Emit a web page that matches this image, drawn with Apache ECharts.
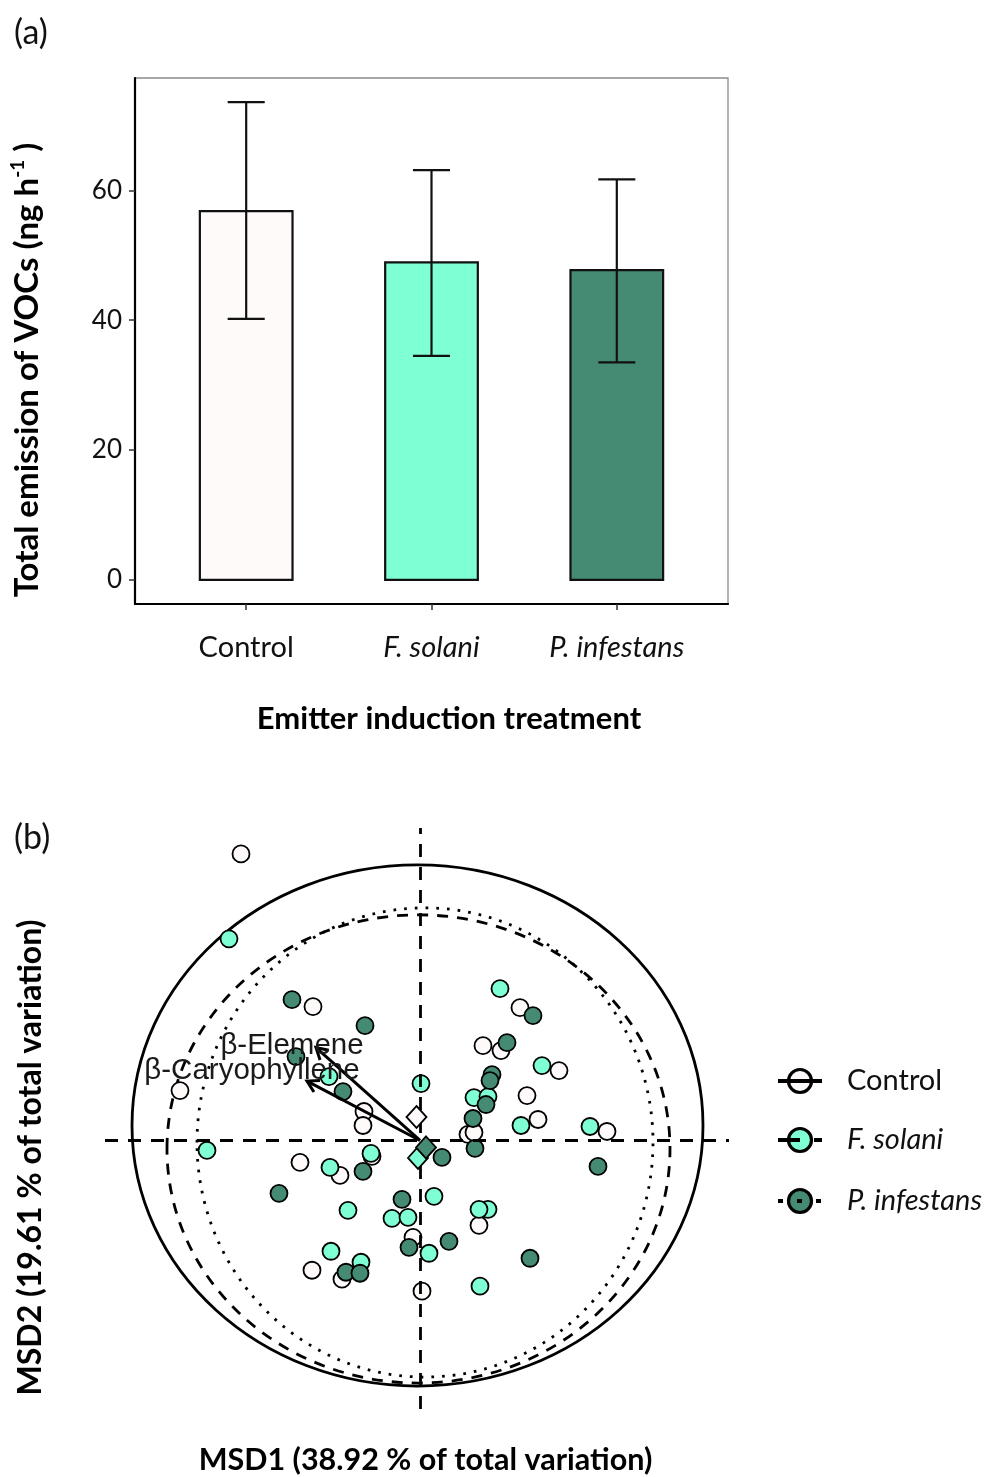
<!DOCTYPE html>
<html>
<head>
<meta charset="utf-8">
<script src="https://cdn.jsdelivr.net/npm/echarts@6/dist/echarts.min.js"></script>
<style>
html,body{margin:0;padding:0;background:#ffffff;}
#chart{width:988px;height:1477px;}
</style>
</head>
<body>
<div id="chart"></div>
<script>
// ---------------- Panel (a) data ----------------
const treatments = ['Control', 'F. solani', 'P. infestans'];
const treatmentItalic = [false, true, true];
const meanEmission = [56.8, 48.9, 47.7];
const upperEmission = [73.6, 63.1, 61.7];
const lowerEmission = [40.2, 34.5, 33.5];
const yTicksA = [0, 20, 40, 60];
const groupColors = ['#FFFAFA', '#7FFFD4', '#458B74'];

// ---------------- Panel (b) data (MDS scores) ----------------
const controlX = [-0.179, -0.107, -0.240, -0.056, -0.057, -0.120, -0.080, -0.048, -0.007, -0.108, -0.078, 0.002, 0.059, 0.100, 0.063, 0.081, 0.139, 0.107, 0.118, 0.187, 0.048, 0.054];
const controlY = [0.287, 0.134, 0.050, 0.029, 0.015, -0.022, -0.035, -0.016, -0.097, -0.130, -0.139, -0.151, -0.085, 0.133, 0.095, 0.090, 0.070, 0.045, 0.021, 0.009, 0.006, 0.008];
const fsolaniX = [-0.191, -0.091, 0.001, -0.213, -0.090, -0.049, -0.072, -0.028, -0.012, -0.089, -0.059, 0.009, 0.014, 0.068, 0.059, 0.060, 0.080, 0.122, 0.054, 0.068, 0.101, 0.170];
const fsolaniY = [0.202, 0.064, 0.057, -0.010, -0.027, -0.013, -0.070, -0.078, -0.077, -0.111, -0.122, -0.113, -0.056, -0.069, -0.069, -0.146, 0.152, 0.075, 0.043, 0.044, 0.015, 0.014];
const pinfX = [-0.128, -0.055, -0.124, -0.077, -0.057, -0.141, -0.018, -0.011, -0.074, -0.060, 0.022, 0.029, 0.110, 0.178, 0.113, 0.087, 0.072, 0.070, 0.066, 0.053, 0.055];
const pinfY = [0.141, 0.115, 0.084, 0.049, -0.031, -0.053, -0.059, -0.107, -0.132, -0.133, -0.017, -0.101, -0.118, -0.026, 0.125, 0.098, 0.066, 0.060, 0.036, 0.022, -0.008];
const centroidX = [-0.0035, -0.002, 0.006];
const centroidY = [0.0235, -0.0175, -0.007];
const ellipseCX = [-0.0025, -0.0015, 0.005];
const ellipseCY = [0.015, -0.0085, -0.002];
const ellipseRX = [0.2855, 0.2515, 0.228];
const ellipseRY = [0.261, 0.2345, 0.235];
const vectorNames = ['β-Elemene', 'β-Caryophyllene'];
const vectorX = [-0.104, -0.113];
const vectorY = [0.093, 0.0595];
const vectorLabelX = [-0.128, -0.168];
const vectorLabelY = [0.095, 0.070];

// ---------------- styles ----------------
const FONT = "Lato, 'Open Sans', sans-serif";
const ARIAL = "'Liberation Sans', Arial, sans-serif";
const ellipseDash = [null, [11, 9], [2.7, 8]];
const legendDash = [null, [22, 14], [5, 14]];

const chart = echarts.init(document.getElementById('chart'), null, {renderer: 'canvas'});

function zip(xs, ys) { return xs.map((x, i) => [x, ys[i]]); }

const legendRowsY = [1081, 1140, 1201];
const legendGraphics = [];
treatments.forEach((name, i) => {
  legendGraphics.push({
    type: 'circle', shape: {cx: 800, cy: legendRowsY[i], r: 11.5},
    style: {fill: groupColors[i], stroke: '#000', lineWidth: 3.2}, z: 10
  });
  legendGraphics.push({
    type: 'line', shape: {x1: 778, y1: legendRowsY[i], x2: 822, y2: legendRowsY[i]},
    style: {stroke: '#000', lineWidth: 4, lineDash: legendDash[i]}, z: 11
  });
  legendGraphics.push({
    type: 'text', x: 847, y: legendRowsY[i], z: 11,
    style: {text: name, fontSize: 29, fontFamily: FONT, fontStyle: treatmentItalic[i] ? 'italic' : 'normal',
      fill: '#111', verticalAlign: 'middle', align: 'left'}
  });
});

const labelRich = {
  n: {fontSize: 29, fontFamily: FONT, color: '#111'},
  it: {fontSize: 29, fontFamily: FONT, color: '#111', fontStyle: 'italic'}
};

const option = {
  backgroundColor: '#ffffff',
  animation: false,
  title: [
    {text: '(a)', left: 9, top: 11, textStyle: {fontSize: 34, fontWeight: 'normal', fontFamily: FONT, color: '#111'}},
    {text: '(b)', left: 9, top: 816, textStyle: {fontSize: 34, fontWeight: 'normal', fontFamily: FONT, color: '#111'}}
  ],
  grid: [
    {left: 133, top: 78, width: 595, height: 526, show: true, borderColor: '#8a8a8a', borderWidth: 1.3, backgroundColor: '#fff'},
    {left: 105, top: 828, width: 624, height: 582}
  ],
  xAxis: [
    {
      type: 'value', gridIndex: 0, min: 0.4, max: 3.6,
      splitLine: {show: false},
      axisLine: {show: true, onZero: false, lineStyle: {color: '#000', width: 2.2}},
      axisTick: {show: true, customValues: [1, 2, 3], length: 6, lineStyle: {color: '#333', width: 1.5}},
      axisLabel: {
        customValues: [1, 2, 3], margin: 29,
        formatter: function (v) {
          const i = Math.round(v) - 1;
          return (treatmentItalic[i] ? '{it|' : '{n|') + treatments[i] + '}';
        },
        rich: labelRich
      },
      name: 'Emitter induction treatment', nameLocation: 'middle', nameGap: 99,
      nameTextStyle: {fontSize: 31, fontWeight: 'bold', fontFamily: FONT, color: '#000', padding: [0, 0, 0, 35]}
    },
    {
      type: 'value', gridIndex: 1, min: -0.315, max: 0.309,
      axisLine: {show: false}, axisTick: {show: false}, axisLabel: {show: false}, splitLine: {show: false},
      name: 'MSD1 (38.92 % of total variation)', nameLocation: 'middle', nameGap: 36,
      nameTextStyle: {fontSize: 30.5, fontWeight: 'bold', fontFamily: FONT, color: '#000', padding: [0, 0, 0, 17]}
    }
  ],
  yAxis: [
    {
      type: 'value', gridIndex: 0, min: -3.7, max: 77.3,
      splitLine: {show: false},
      axisLine: {show: true, onZero: false, lineStyle: {color: '#000', width: 2.2}},
      axisTick: {show: true, customValues: yTicksA, length: 6, lineStyle: {color: '#333', width: 1.5}},
      axisLabel: {customValues: yTicksA, margin: 13, fontSize: 26, fontFamily: FONT, color: '#111'},
      name: '{t|Total emission of VOCs (ng h}{s|-1}{t| )}', nameLocation: 'middle', nameGap: 89,
      nameTextStyle: {
        fontSize: 33, fontWeight: 'bold', fontFamily: FONT, color: '#000', padding: [0, 58, 0, 0],
        rich: {
          t: {fontSize: 33, fontWeight: 'bold', fontFamily: FONT, color: '#000', lineHeight: 38},
          s: {fontSize: 19, fontWeight: 'bold', fontFamily: FONT, color: '#000', lineHeight: 19, verticalAlign: 'top'}
        }
      }
    },
    {
      type: 'value', gridIndex: 1, min: -0.269, max: 0.313,
      axisLine: {show: false}, axisTick: {show: false}, axisLabel: {show: false}, splitLine: {show: false},
      name: 'MSD2 (19.61 % of total variation)', nameLocation: 'middle', nameGap: 58,
      nameTextStyle: {fontSize: 32, fontWeight: 'bold', fontFamily: FONT, color: '#000', padding: [0, 78, 0, 0]}
    }
  ],
  series: [
    // ---- (a) bars ----
    {
      name: 'Total emission', type: 'custom', xAxisIndex: 0, yAxisIndex: 0, z: 2,
      data: meanEmission.map((v, i) => [i + 1, v]),
      encode: {x: 0, y: 1},
      renderItem: function (params, api) {
        const x = api.value(0), v = api.value(1);
        const tl = api.coord([x - 0.25, v]);
        const br = api.coord([x + 0.25, 0]);
        return {type: 'rect', shape: {x: tl[0], y: tl[1], width: br[0] - tl[0], height: br[1] - tl[1]},
          style: {fill: groupColors[params.dataIndex], stroke: '#111', lineWidth: 2.2}};
      }
    },
    // ---- (a) error bars ----
    {
      name: 'Error', type: 'custom', xAxisIndex: 0, yAxisIndex: 0, z: 3,
      data: meanEmission.map((v, i) => [i + 1, lowerEmission[i], upperEmission[i]]),
      encode: {x: 0, y: [1, 2]},
      renderItem: function (params, api) {
        const x = api.value(0);
        const lo = api.coord([x, api.value(1)]);
        const hi = api.coord([x, api.value(2)]);
        const hw = api.size([0.1, 0])[0];
        const st = {stroke: '#111', lineWidth: 2.2};
        return {type: 'group', children: [
          {type: 'line', shape: {x1: lo[0], y1: lo[1], x2: hi[0], y2: hi[1]}, style: st},
          {type: 'line', shape: {x1: lo[0] - hw, y1: lo[1], x2: lo[0] + hw, y2: lo[1]}, style: st},
          {type: 'line', shape: {x1: hi[0] - hw, y1: hi[1], x2: hi[0] + hw, y2: hi[1]}, style: st}
        ]};
      }
    },
    // ---- (b) ellipses ----
    {
      name: 'Ellipses', type: 'custom', xAxisIndex: 1, yAxisIndex: 1, z: 2,
      data: ellipseCX.map((cx, i) => [cx, ellipseCY[i], ellipseRX[i], ellipseRY[i]]),
      encode: {x: 0, y: 1},
      renderItem: function (params, api) {
        const c = api.coord([api.value(0), api.value(1)]);
        const s = api.size([api.value(2), api.value(3)]);
        return {type: 'ellipse', shape: {cx: c[0], cy: c[1], rx: s[0], ry: s[1]},
          style: {fill: null, stroke: '#000', lineWidth: 2.8, lineDash: ellipseDash[params.dataIndex]}};
      }
    },
    // ---- (b) points ----
    {
      name: 'Control', type: 'scatter', xAxisIndex: 1, yAxisIndex: 1, z: 3,
      data: zip(controlX, controlY), symbol: 'circle', symbolSize: 17,
      itemStyle: {color: groupColors[0], borderColor: '#000', borderWidth: 1.8, opacity: 1}
    },
    {
      name: 'F. solani', type: 'scatter', xAxisIndex: 1, yAxisIndex: 1, z: 3,
      data: zip(fsolaniX, fsolaniY), symbol: 'circle', symbolSize: 17,
      itemStyle: {color: groupColors[1], borderColor: '#000', borderWidth: 1.8, opacity: 1}
    },
    {
      name: 'P. infestans', type: 'scatter', xAxisIndex: 1, yAxisIndex: 1, z: 3,
      data: zip(pinfX, pinfY), symbol: 'circle', symbolSize: 17,
      itemStyle: {color: groupColors[2], borderColor: '#000', borderWidth: 1.8, opacity: 1}
    },
    // ---- (b) zero reference lines ----
    {
      name: 'Zero lines', type: 'line', xAxisIndex: 1, yAxisIndex: 1, z: 4, data: [],
      markLine: {
        silent: true, symbol: ['none', 'none'], label: {show: false},
        lineStyle: {color: '#000', width: 2.8, type: [13, 10]},
        data: [{xAxis: 0}, {yAxis: 0}]
      }
    },
    // ---- (b) vectors ----
    {
      name: 'Vectors', type: 'custom', xAxisIndex: 1, yAxisIndex: 1, z: 5,
      data: vectorX.map((x, i) => [x, vectorY[i]]),
      encode: {x: 0, y: 1},
      renderItem: function (params, api) {
        const p0 = api.coord([0, 0]);
        const p1 = api.coord([api.value(0), api.value(1)]);
        const ang = Math.atan2(p1[1] - p0[1], p1[0] - p0[0]);
        const L = 13, a = Math.PI / 6;
        const h1 = [p1[0] - L * Math.cos(ang - a), p1[1] - L * Math.sin(ang - a)];
        const h2 = [p1[0] - L * Math.cos(ang + a), p1[1] - L * Math.sin(ang + a)];
        return {type: 'group', children: [
          {type: 'line', shape: {x1: p0[0], y1: p0[1], x2: p1[0], y2: p1[1]}, style: {stroke: '#000', lineWidth: 3}},
          {type: 'polyline', shape: {points: [h1, p1, h2]}, style: {stroke: '#000', lineWidth: 3, fill: null}}
        ]};
      }
    },
    {
      name: 'Vector labels', type: 'custom', xAxisIndex: 1, yAxisIndex: 1, z: 6,
      data: vectorLabelX.map((x, i) => [x, vectorLabelY[i]]),
      encode: {x: 0, y: 1},
      renderItem: function (params, api) {
        const p = api.coord([api.value(0), api.value(1)]);
        return {type: 'text', x: p[0], y: p[1],
          style: {text: vectorNames[params.dataIndex], fontSize: 29.5, fontFamily: ARIAL, fill: '#1a1a1a', align: 'center', verticalAlign: 'middle'}};
      }
    },
    // ---- (b) centroids ----
    {
      name: 'Centroids', type: 'scatter', xAxisIndex: 1, yAxisIndex: 1, z: 7,
      symbol: 'diamond', symbolSize: [20, 22],
      data: centroidX.map((x, i) => ({value: [x, centroidY[i]], itemStyle: {color: groupColors[i]}})),
      itemStyle: {borderColor: '#000', borderWidth: 1.8, opacity: 1}
    }
  ],
  graphic: legendGraphics
};

chart.setOption(option);
</script>
</body>
</html>
